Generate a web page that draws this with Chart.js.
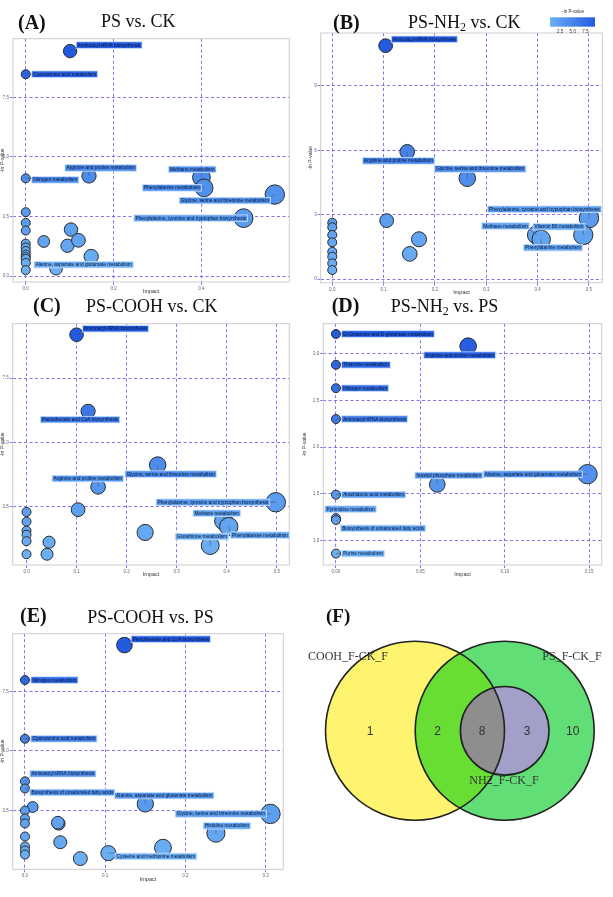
<!DOCTYPE html>
<html lang="en">
<head>
<meta charset="UTF-8">
<title>Pathway impact bubble charts</title>
<script src="https://cdn.jsdelivr.net/npm/chart.js"></script>
<style>
  body { margin: 0; background: #fff; }
  #page { position: relative; width: 613px; height: 897px; overflow: hidden; }
  canvas { position: absolute; }
  .tag, .ttl { position: absolute; font-family: "Liberation Serif", "Times New Roman", serif; color: #111; white-space: nowrap; line-height: 1; }
  .tag { font-weight: bold; font-size: 20px; }
  .ttl { font-size: 18px; }
  sub { font-size: 12px; vertical-align: -3px; line-height: 0; }
</style>
</head>
<body>
<div id="page">
  <div class="tag" style="left:18px;top:11.5px">(A)</div>
  <div class="ttl" style="left:101px;top:12.4px">PS vs. CK</div>
  <div class="tag" style="left:333px;top:11.5px">(B)</div>
  <div class="ttl" style="left:408px;top:12.6px">PS-NH<sub>2</sub> vs. CK</div>
  <div class="tag" style="left:33px;top:295.3px">(C)</div>
  <div class="ttl" style="left:86px;top:297px">PS-COOH vs. CK</div>
  <div class="tag" style="left:331.7px;top:295.3px">(D)</div>
  <div class="ttl" style="left:390.7px;top:297px">PS-NH<sub>2</sub> vs. PS</div>
  <div class="tag" style="left:20px;top:605.3px">(E)</div>
  <div class="ttl" style="left:87.3px;top:608px">PS-COOH vs. PS</div>
  <div class="tag" style="left:326px;top:606px;font-size:19px">(F)</div>
</div>
<script>
// ---- data: impact (x), -ln P-value (y), pathway names ('' = unlabelled)
const impactA = [0.101, 0, 0, 0.144, 0.400, 0.406, 0.567, 0.496, 0.069, 0, 0, 0, 0, 0, 0, 0, 0, 0, 0, 0, 0.041, 0.103, 0.095, 0.120, 0.149];
const lnpA = [9.44, 8.47, 4.10, 4.20, 4.14, 3.70, 3.42, 2.43, 0.31, 2.68, 2.23, 1.91, 1.36, 1.20, 1.05, 0.90, 0.80, 0.72, 0.55, 0.25, 1.45, 1.95, 1.27, 1.50, 0.82];
const pathwayA = ['Aminoacyl-tRNA biosynthesis', 'Cyanoamino acid metabolism', 'Nitrogen metabolism', 'Arginine and proline metabolism',
  'Methane metabolism', 'Phenylalanine metabolism', 'Glycine, serine and threonine metabolism',
  'Phenylalanine, tyrosine and tryptophan biosynthesis', 'Alanine, aspartate and glutamate metabolism',
  '', '', '', '', '', '', '', '', '', '', '', '', '', '', '', ''];

const impactB = [0.104, 0.146, 0.263, 0.500, 0.398, 0.489, 0.407, 0.106, 0.169, 0.151, 0, 0, 0, 0, 0, 0, 0, 0];
const lnpB = [10.87, 5.93, 4.70, 2.84, 2.06, 2.06, 1.86, 2.73, 1.86, 1.18, 2.63, 2.42, 2.06, 1.72, 1.28, 1.05, 0.74, 0.43];
const pathwayB = ['Aminoacyl-tRNA biosynthesis', 'Arginine and proline metabolism', 'Glycine, serine and threonine metabolism',
  'Phenylalanine, tyrosine and tryptophan biosynthesis', 'Methane metabolism', 'Vitamin B6 metabolism', 'Phenylalanine metabolism',
  '', '', '', '', '', '', '', '', '', '', ''];

const impactC = [0.100, 0.123, 0.262, 0.143, 0.498, 0.394, 0.404, 0.367, 0.237, 0.103, 0, 0, 0, 0, 0, 0, 0.045, 0.041];
const lnpC = [9.20, 6.21, 4.11, 3.26, 2.66, 1.93, 1.71, 0.97, 1.48, 2.37, 2.28, 1.90, 1.55, 1.39, 1.14, 0.63, 1.10, 0.63];
const pathwayC = ['Aminoacyl-tRNA biosynthesis', 'Pantothenate and CoA biosynthesis', 'Glycine, serine and threonine metabolism',
  'Arginine and proline metabolism', 'Phenylalanine, tyrosine and tryptophan biosynthesis', 'Methane metabolism',
  'Phenylalanine metabolism', 'Glutathione metabolism', '', '', '', '', '', '', '', '', '', ''];

const impactD = [0, 0.0783, 0, 0, 0, 0.060, 0.149, 0, 0, 0, 0];
const lnpD = [3.21, 3.08, 2.88, 2.63, 2.30, 1.60, 1.71, 1.49, 1.24, 1.22, 0.86];
const pathwayD = ['D-Glutamine and D-glutamate metabolism', 'Arginine and proline metabolism', 'Thiamine metabolism',
  'Nitrogen metabolism', 'Aminoacyl-tRNA biosynthesis', 'Inositol phosphate metabolism',
  'Alanine, aspartate and glutamate metabolism', 'Arachidonic acid metabolism', 'Pyrimidine metabolism',
  'Biosynthesis of unsaturated fatty acids', 'Purine metabolism'];

const impactE = [0.124, 0, 0, 0, 0, 0.150, 0.306, 0.238, 0.104, 0.0096, 0, 0, 0, 0, 0, 0, 0, 0.042, 0.041, 0.044, 0.069, 0.172];
const lnpE = [9.45, 7.98, 5.51, 3.72, 3.42, 2.77, 2.35, 1.54, 0.70, 2.64, 2.49, 2.16, 1.95, 1.40, 0.98, 0.81, 0.64, 1.94, 1.98, 1.16, 0.47, 0.93];
const pathwayE = ['Pantothenate and CoA biosynthesis', 'Nitrogen metabolism', 'Cyanoamino acid metabolism',
  'Aminoacyl-tRNA biosynthesis', 'Biosynthesis of unsaturated fatty acids', 'Alanine, aspartate and glutamate metabolism',
  'Glycine, serine and threonine metabolism', 'Histidine metabolism', 'Cysteine and methionine metabolism',
  '', '', '', '', '', '', '', '', '', '', '', '', ''];

// tick labels
const xTicksA = [0, 0.2, 0.4], yTicksA = [0, 2.5, 5, 7.5];
const xTicksB = [0, 0.1, 0.2, 0.3, 0.4, 0.5], yTicksB = [0, 3, 6, 9];
const xTicksC = [0, 0.1, 0.2, 0.3, 0.4, 0.5], yTicksC = [2.5, 5, 7.5];
const xTicksD = [0, 0.05, 0.1, 0.15], yTicksD = [1, 1.5, 2, 2.5, 3];
const xTicksE = [0, 0.1, 0.2, 0.3], yTicksE = [2.5, 5, 7.5];
const legendTicks = [2.5, 5.0, 7.5];
const legendRange = [0.5, 9.4];

// venn diagram
const vennSets = ['COOH_F-CK_F', 'PS_F-CK_F', 'NH2_F-CK_F'];
const vennCounts = [1, 2, 8, 3, 10]; // COOH only, COOH&PS, all three, PS&NH2, PS only

// ---- layout (label offsets in px: [dx, dy, anchor] anchor l = box left, r = box right)
const labelPosA = {
  'Aminoacyl-tRNA biosynthesis': [6, -6, 'l'], 'Cyanoamino acid metabolism': [6, 0, 'l'],
  'Nitrogen metabolism': [6, 1.5, 'l'], 'Arginine and proline metabolism': [-24, -8, 'l'],
  'Methane metabolism': [-33, -8, 'l'], 'Phenylalanine metabolism': [-2.7, 0, 'r'],
  'Glycine, serine and threonine metabolism': [-4.3, 6, 'r'],
  'Phenylalanine, tyrosine and tryptophan biosynthesis': [4, 0, 'r'],
  'Alanine, aspartate and glutamate metabolism': [-22, -4, 'l']
};
const labelPosB = {
  'Aminoacyl-tRNA biosynthesis': [5.7, -6.4, 'l'], 'Arginine and proline metabolism': [-44.6, 9, 'l'],
  'Glycine, serine and threonine metabolism': [-32.7, -9.3, 'l'],
  'Phenylalanine, tyrosine and tryptophan biosynthesis': [12.3, -9, 'r'],
  'Methane metabolism': [-7.3, -9, 'r'], 'Vitamin B6 metabolism': [1.7, -8.3, 'r'],
  'Phenylalanine metabolism': [-17.7, 8.4, 'l']
};
const labelPosC = {
  'Aminoacyl-tRNA biosynthesis': [6, -6, 'l'], 'Pantothenate and CoA biosynthesis': [-47.6, 8.3, 'l'],
  'Glycine, serine and threonine metabolism': [-32.6, 9, 'l'], 'Arginine and proline metabolism': [-46, -8.3, 'l'],
  'Phenylalanine, tyrosine and tryptophan biosynthesis': [-6, 0, 'r'], 'Methane metabolism': [-30.7, -7.7, 'l'],
  'Phenylalanine metabolism': [1.6, 8.6, 'l'], 'Glutathione metabolism': [-35, -9, 'l']
};
const labelPosD = {
  'D-Glutamine and D-glutamate metabolism': [5.7, 0, 'l'], 'Arginine and proline metabolism': [-44.3, 9, 'l'],
  'Thiamine metabolism': [5.7, 0, 'l'], 'Nitrogen metabolism': [5.7, 0, 'l'],
  'Aminoacyl-tRNA biosynthesis': [5.7, 0, 'l'], 'Inositol phosphate metabolism': [-22.3, -9, 'l'],
  'Alanine, aspartate and glutamate metabolism': [-5, 0, 'r'], 'Arachidonic acid metabolism': [5.7, 0, 'l'],
  'Pyrimidine metabolism': [-11, -9, 'l'], 'Biosynthesis of unsaturated fatty acids': [4.7, 8.4, 'l'],
  'Purine metabolism': [5.7, 0, 'l']
};
const labelPosE = {
  'Pantothenate and CoA biosynthesis': [6.7, -6, 'l'], 'Nitrogen metabolism': [6, 0, 'l'],
  'Cyanoamino acid metabolism': [6, 0, 'l'], 'Aminoacyl-tRNA biosynthesis': [5, -7.6, 'l'],
  'Biosynthesis of unsaturated fatty acids': [5, 4, 'l'], 'Alanine, aspartate and glutamate metabolism': [-30.7, -8.3, 'l'],
  'Glycine, serine and threonine metabolism': [-4, 0, 'r'], 'Histidine metabolism': [-12.7, -7.3, 'l'],
  'Cysteine and methionine metabolism': [6.7, 3.3, 'l']
};

Chart.defaults.font.family = '"Liberation Sans", Arial, sans-serif';
const page = document.getElementById('page');
const gridCol = 'rgba(112, 92, 236, 0.85)';

function blue(t) {
  const lo = [108, 176, 243], hi = [34, 90, 226];
  const c = lo.map((v, i) => Math.round(v + (hi[i] - v) * t));
  return `rgb(${c[0]},${c[1]},${c[2]})`;
}

// panels: area = chart area [left, top, right, bottom] in page px
const panels = [
  { impact: impactA, lnp: lnpA, names: pathwayA, offs: labelPosA, xTicks: xTicksA, yTicks: yTicksA, xd: 1, yd: 1,
    xr: [-0.029, 0.6], yr: [-0.25, 9.96], area: [13, 33, 293, 282], col: 0, yPad: 0 },
  { impact: impactB, lnp: lnpB, names: pathwayB, offs: labelPosB, xTicks: xTicksB, yTicks: yTicksB, xd: 1, yd: 0,
    xr: [-0.0225, 0.526], yr: [-0.16, 11.46], area: [320.7, 33, 603, 282.7], col: 300, yPad: 8, top: 0, legend: true },
  { impact: impactC, lnp: lnpC, names: pathwayC, offs: labelPosC, xTicks: xTicksC, yTicks: yTicksC, xd: 1, yd: 1,
    xr: [-0.0276, 0.525], yr: [0.21, 9.63], area: [12.7, 318.3, 292.7, 565], col: 0, yPad: 0 },
  { impact: impactD, lnp: lnpD, names: pathwayD, offs: labelPosD, xTicks: xTicksD, yTicks: yTicksD, xd: 2, yd: 1,
    xr: [-0.0075, 0.1574], yr: [0.738, 3.32], area: [323.3, 318.3, 601.7, 565], col: 300, yPad: 2 },
  { impact: impactE, lnp: lnpE, names: pathwayE, offs: labelPosE, xTicks: xTicksE, yTicks: yTicksE, xd: 1, yd: 1,
    xr: [-0.0153, 0.322], yr: [0.02, 9.93], area: [12.7, 628.3, 283.3, 869.3], col: 0, yPad: 0 }
];

function makePanel(p) {
  const [L, T, R, B] = p.area;
  const cl = p.col;
  const ct = p.top !== undefined ? p.top : Math.floor(T - 5);
  const cw = cl === 0 ? 300 : 313;
  const ch = Math.ceil(B + 16 - ct);
  const cv = document.createElement('canvas');
  cv.width = cw; cv.height = ch;
  cv.style.left = cl + 'px'; cv.style.top = ct + 'px';
  page.prepend(cv);

  const yMin = Math.min(...p.lnp), yMax = Math.max(...p.lnp), xMax = Math.max(...p.impact);
  const pts = p.impact.map((x, i) => ({
    x: x, y: p.lnp[i], r: 4.5 + 5.2 * Math.sqrt(x / xMax),
    name: p.names[i], t: (p.lnp[i] - yMin) / (yMax - yMin)
  }));

  const deco = {
    id: 'deco',
    beforeDatasetsDraw(chart) {
      const a = chart.chartArea, ctx = chart.ctx;
      ctx.save();
      ctx.strokeStyle = '#cdcdcd';
      ctx.lineWidth = 1;
      ctx.strokeRect(a.left, a.top, a.right - a.left, a.bottom - a.top);
      ctx.restore();
    },
    afterDatasetsDraw(chart) {
      const ctx = chart.ctx;
      const meta = chart.getDatasetMeta(0);
      ctx.save();
      ctx.font = '4.8px "Liberation Sans", Arial, sans-serif';
      ctx.textBaseline = 'middle';
      meta.data.forEach((el, i) => {
        const pt = pts[i];
        if (!pt.name) return;
        const off = p.offs[pt.name];
        const w = ctx.measureText(pt.name).width + 3, h = 6.5;
        const bx = off[2] === 'r' ? el.x + off[0] - w : el.x + off[0];
        const by = el.y + off[1] - h / 2;
        const nx = Math.max(bx, Math.min(el.x, bx + w)), ny = Math.max(by, Math.min(el.y, by + h));
        if (Math.hypot(nx - el.x, ny - el.y) > 2) {
          ctx.strokeStyle = '#555';
          ctx.lineWidth = 0.6;
          ctx.beginPath(); ctx.moveTo(el.x, el.y); ctx.lineTo(nx, ny); ctx.stroke();
        }
        ctx.fillStyle = blue(pt.t);
        ctx.fillRect(bx, by, w, h);
        ctx.strokeStyle = 'rgba(205,225,252,0.95)';
        ctx.lineWidth = 0.8;
        ctx.strokeRect(bx, by, w, h);
        ctx.fillStyle = '#0b1838';
        ctx.fillText(pt.name, bx + 1.5, by + h / 2 + 0.2);
      });
      ctx.restore();
    },
    afterDraw(chart) {
      if (!p.legend) return;
      const a = chart.chartArea, ctx = chart.ctx;
      const x1 = a.right - 52.3, x2 = a.right - 7.3, y1 = a.top - 15.7, y2 = a.top - 6.3;
      ctx.save();
      const g = ctx.createLinearGradient(x1, 0, x2, 0);
      g.addColorStop(0, blue(0)); g.addColorStop(1, blue(1));
      ctx.fillStyle = g;
      ctx.fillRect(x1, y1, x2 - x1, y2 - y1);
      ctx.fillStyle = '#333';
      ctx.font = '4.6px "Liberation Sans", Arial, sans-serif';
      ctx.textAlign = 'center'; ctx.textBaseline = 'middle';
      ctx.fillText('\u2212ln P-value', (x1 + x2) / 2, a.top - 21.3);
      legendTicks.forEach(v => {
        const tx = x1 + (v - legendRange[0]) / (legendRange[1] - legendRange[0]) * (x2 - x1);
        ctx.fillText(v.toFixed(1), tx, a.top - 1.7);
      });
      ctx.restore();
    }
  };

  new Chart(cv, {
    type: 'bubble',
    data: {
      datasets: [{
        data: pts,
        backgroundColor: c => blue(pts[c.dataIndex].t),
        borderColor: '#2b2b2b',
        borderWidth: 1,
        clip: false
      }]
    },
    options: {
      responsive: false,
      animation: false,
      events: [],
      layout: { padding: { left: 0, top: T - ct, right: cl + cw - R, bottom: 0 } },
      plugins: { legend: { display: false }, tooltip: { enabled: false } },
      scales: {
        x: {
          type: 'linear', min: p.xr[0], max: p.xr[1],
          afterBuildTicks: s => { s.ticks = p.xTicks.map(v => ({ value: v })); },
          afterFit: s => { s.height = ct + ch - B; },
          grid: { color: gridCol, lineWidth: 1, tickLength: 3 },
          border: { display: false, dash: [3, 2.5] },
          ticks: { font: { size: 4.5 }, color: '#666', padding: 1, maxRotation: 0, autoSkip: false,
                   callback: v => Number(v).toFixed(p.xd) },
          title: { display: true, text: 'Impact', font: { size: 5.5 }, color: '#333', padding: { top: 0, bottom: 3 } }
        },
        y: {
          type: 'linear', min: p.yr[0], max: p.yr[1],
          afterBuildTicks: s => { s.ticks = p.yTicks.map(v => ({ value: v })); },
          afterFit: s => { s.width = L - cl; },
          grid: { color: gridCol, lineWidth: 1, tickLength: 3 },
          border: { display: false, dash: [3, 2.5] },
          ticks: { font: { size: 4.5 }, color: '#666', padding: 1, autoSkip: false,
                   callback: v => Number(v).toFixed(p.yd) },
          title: { display: true, text: '-ln P-value', font: { size: 5 }, color: '#333', padding: { top: p.yPad, bottom: 0 } }
        }
      }
    },
    plugins: [deco]
  });
}

panels.forEach(makePanel);

// ---- venn diagram (F), drawn on a hidden 313 x 307 linear grid
const vennCircles = [
  { cx: 115, cy: 140.7, r: 89.5, fill: 'rgb(255,244,112)' },   // COOH_F-CK_F
  { cx: 204.7, cy: 140.7, r: 89.5, fill: 'rgb(98,222,118)' },   // PS_F-CK_F
  { cx: 204.7, cy: 140.8, r: 44.3, fill: 'rgb(162,160,200)' }   // NH2_F-CK_F
];
const vennCountPos = [[70, 141.7], [137.7, 141.7], [182, 141.7], [227, 141.7], [272.7, 141.7]];
const vennSetPos = [[8, 70, 'left'], [301.7, 70, 'right'], [204, 194, 'center']];

const cvF = document.createElement('canvas');
cvF.width = 313; cvF.height = 307;
cvF.style.left = '300px'; cvF.style.top = '590px';
page.prepend(cvF);

const vennPlugin = {
  id: 'venn',
  afterDraw(chart) {
    const ctx = chart.ctx, sx = chart.scales.x, sy = chart.scales.y;
    const path = c => {
      const x = sx.getPixelForValue(c.cx), y = sy.getPixelForValue(c.cy);
      const r = sx.getPixelForValue(c.cx + c.r) - x;
      ctx.beginPath(); ctx.arc(x, y, r, 0, Math.PI * 2);
    };
    const [yel, grn, nh2] = vennCircles;
    ctx.save();
    path(yel); ctx.fillStyle = yel.fill; ctx.fill();
    path(grn); ctx.fillStyle = grn.fill; ctx.fill();
    ctx.save(); path(yel); ctx.clip(); path(grn); ctx.fillStyle = 'rgb(104,222,52)'; ctx.fill(); ctx.restore();
    path(nh2); ctx.fillStyle = nh2.fill; ctx.fill();
    ctx.save(); path(yel); ctx.clip(); path(nh2); ctx.fillStyle = 'rgb(142,142,142)'; ctx.fill(); ctx.restore();

    ctx.font = '12px "Liberation Serif", "Times New Roman", serif';
    ctx.fillStyle = '#333';
    ctx.textBaseline = 'alphabetic';
    vennSets.forEach((s, i) => {
      const [x, y, al] = vennSetPos[i];
      ctx.textAlign = al;
      ctx.fillText(s, sx.getPixelForValue(x), sy.getPixelForValue(y));
    });

    ctx.strokeStyle = '#222';
    ctx.lineWidth = 1.6;
    vennCircles.forEach(c => { path(c); ctx.stroke(); });

    ctx.font = '12px "Liberation Sans", Arial, sans-serif';
    ctx.fillStyle = '#333';
    ctx.textAlign = 'center';
    ctx.textBaseline = 'middle';
    vennCounts.forEach((n, i) => {
      const [x, y] = vennCountPos[i];
      ctx.fillText(String(n), sx.getPixelForValue(x), sy.getPixelForValue(y));
    });
    ctx.restore();
  }
};

new Chart(cvF, {
  type: 'scatter',
  data: { datasets: [{ data: [] }] },
  options: {
    responsive: false,
    animation: false,
    events: [],
    layout: { padding: 0 },
    plugins: { legend: { display: false }, tooltip: { enabled: false } },
    scales: {
      x: { display: false, min: 0, max: 313 },
      y: { display: false, min: 0, max: 307, reverse: true }
    }
  },
  plugins: [vennPlugin]
});
</script>
</body>
</html>
